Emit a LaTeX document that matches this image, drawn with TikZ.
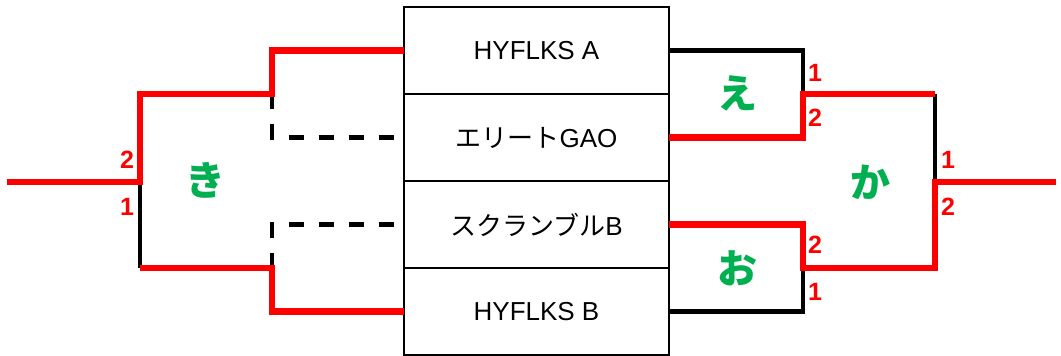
\documentclass[tikz,border=0pt]{standalone}
\usepackage{fontspec}
\setmainfont{Liberation Sans}
\newfontfamily\jp{Noto Sans CJK JP}
\usetikzlibrary{positioning}
\definecolor{winred}{RGB}{255,0,0}
\definecolor{wingreen}{RGB}{0,176,80}

\begin{document}
\begin{tikzpicture}[x=1pt, y=-1pt]
	\tikzstyle{team} = [draw, line width=2.5pt, minimum width=265pt, minimum height=87pt, inner sep=0pt, outer sep=0pt, font=\fontsize{26}{28}\selectfont]
	\tikzstyle{won} = [winred, line width=6.5pt]
	\tikzstyle{lost} = [black, line width=4.5pt]
	\tikzstyle{notyet} = [black, line width=4.5pt, dash pattern=on 15pt off 15pt]
	\tikzstyle{game} = [wingreen, font=\jp\bfseries\fontsize{40}{42}\selectfont]
	\tikzstyle{score} = [winred, font=\bfseries\fontsize{25}{27}\selectfont]
	\useasboundingbox (0,0) rectangle (1061,356);
	% teams
	\node[team] (hyA) at (536.5,50.5) {HYFLKS A};
	\node[team, below=0pt of hyA] (elite) {{\jp エリート}GAO};
	\node[team, below=0pt of elite] (scr) {{\jp スクランブル}B};
	\node[team, below=0pt of scr] (hyB) {HYFLKS B};
	% left side
	\coordinate (ltop) at (272,94);
	\coordinate (lbot) at (272,268);
	\coordinate (kiTop) at (140,94);
	\coordinate (kiBot) at (140,268);
	\coordinate (kiOut) at (140,182);
	\coordinate (leftEnd) at (7,182);
	\draw[notyet] (ltop) |- (elite.west);
	\draw[notyet] (lbot) |- (scr.west);
	\draw[lost] (kiOut) -- (kiBot);
	\draw[won] (hyA.west) -| (ltop) -- (kiTop) -- (kiOut) -- (leftEnd);
	\draw[won] (hyB.west) -| (lbot) -- (kiBot);
	% right side
	\coordinate (eJ) at (803,94);
	\coordinate (oJ) at (803,268);
	\coordinate (kaTop) at (935,94);
	\coordinate (kaBot) at (935,268);
	\coordinate (kaOut) at (935,182);
	\coordinate (rightEnd) at (1056,182);
	\draw[lost] (hyA.east) -| (eJ);
	\draw[lost] (hyB.east) -| (oJ);
	\draw[lost] (kaTop) -- (kaOut);
	\draw[won] (elite.east) -| (eJ) -- (kaTop);
	\draw[won] (scr.east) -| (oJ) -- (kaBot) -- (kaOut) -- (rightEnd);
	% labels
	\node[game] (ki) at (205,180) {き};
	\node[game] (e) at (737,93) {え};
	\node[game] (ka) at (870,182) {か};
	\node[game] (o) at (737,268) {お};
	\node[score] at (127,160) {2};
	\node[score] at (127,207) {1};
	\node[score] at (815,73) {1};
	\node[score] at (815,118) {2};
	\node[score] at (948,160) {1};
	\node[score] at (948,207) {2};
	\node[score] at (815,245) {2};
	\node[score] at (815,292) {1};
\end{tikzpicture}
\end{document}
